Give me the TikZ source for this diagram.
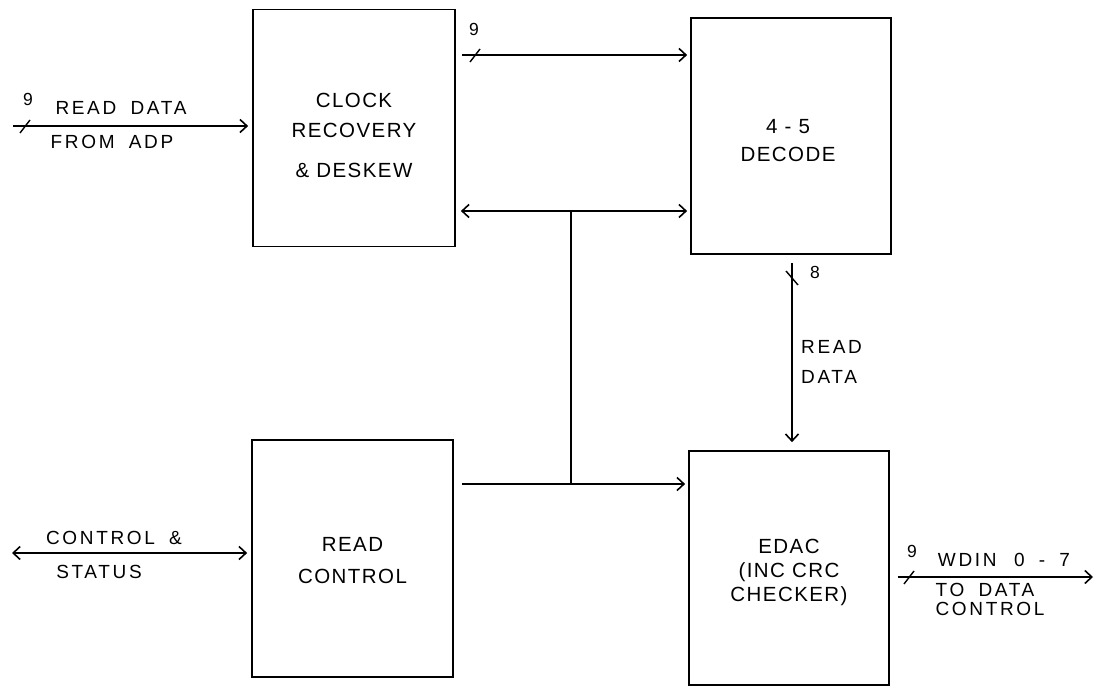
\documentclass[tikz,border=0pt]{standalone}
\usepackage{fontspec}
\setmainfont{Liberation Sans}[LetterSpace=7]
\newfontfamily\lblfont{Liberation Sans}[LetterSpace=14,WordSpace=1.8]
\usetikzlibrary{arrows.meta}
\begin{document}
\begin{tikzpicture}[x=1pt,y=-1pt,
  blk/.style={draw,line width=1.7pt,inner sep=0pt},
  btxt/.style={inner sep=0pt,align=center,font=\fontsize{20.5}{30}\selectfont},
  wire/.style={line width=1.6pt},
  arr/.style={wire,-{Straight Barb[length=7pt,width=13pt,line width=1.6pt]}},
  arrtwo/.style={wire,{Straight Barb[length=7pt,width=13pt,line width=1.6pt]}-{Straight Barb[length=7pt,width=13pt,line width=1.6pt]}},
  tickmark/.style={line width=1.4pt},
  lbl/.style={inner sep=0pt,font=\lblfont\fontsize{19}{22}\selectfont},
  num/.style={inner sep=0pt,font=\fontsize{17.5}{20}\selectfont}]
\useasboundingbox (0,0) rectangle (1095,687);
\fill[white] (0,0) rectangle (1095,687);

% blocks
\node[blk,minimum width=202pt,minimum height=237pt] (clk) at (354,128) {};
\node[blk,minimum width=200pt,minimum height=236pt] (dec) at (791,136) {};
\node[blk,minimum width=201pt,minimum height=237pt] (rc) at (352.5,558.5) {};
\node[blk,minimum width=200pt,minimum height=234pt] (edac) at (789,568) {};

% block texts
\node[btxt] (clkt) at (354,135) {CLOCK\\RECOVERY\\[10pt]\& DESKEW};
\node[btxt,font=\fontsize{20.5}{28}\selectfont] (dect) at (788,141) {4 - 5\\DECODE};
\node[btxt,font=\fontsize{20.5}{32}\selectfont] (rct) at (352.5,561) {READ\\CONTROL};
\node[btxt,font=\fontsize{20.5}{24}\selectfont] (edact) at (789,572) {EDAC\\(INC CRC\\CHECKER)};

% helper coordinates
\coordinate (in1) at (13,126);
\coordinate (top) at (462,55);
\coordinate (busT) at (571,211);
\coordinate (busB) at (571,484);
\coordinate (rdx) at (792,0);
\coordinate (cs) at (12,553);
\coordinate (wd) at (1093,577);

% READ DATA FROM ADP
\draw[arr,shorten >=4pt] (in1) -- (in1 -| clk.west);
\draw[tickmark] ([shift={(7,7)}]in1) -- ++(10,-13);
\node[num] (n9a) at (28,99) {9};
\node[lbl] (rdl1) at (121,108) {READ DATA};
\node[lbl] (rdl2) at (112,142) {FROM ADP};

% top bus clock -> decode
\draw[arr,shorten >=3pt] (top) -- (top -| dec.west);
\draw[tickmark] ([shift={(8,7)}]top) -- ++(10,-13);
\node[num] (n9b) at (474,29) {9};

% bidirectional bus and vertical line
\draw[arrtwo,shorten <=5pt,shorten >=3pt] (clk.east |- busT) -- (dec.west |- busT);
\draw[wire] (busT) -- (busB);
\draw[arr,shorten <=8pt,shorten >=3pt] (rc.east |- busB) -- (edac.west |- busB);

% READ DATA vertical
\draw[arr,shorten <=8pt,shorten >=8pt] (dec.south -| rdx) -- (edac.north -| rdx);
\draw[tickmark] (786,271) -- (798,285);
\node[num] (n8) at (815,272) {8};
\node[lbl,anchor=west] (rdv1) at (801,347) {READ};
\node[lbl,anchor=west] (rdv2) at (801,377) {DATA};

% CONTROL & STATUS
\draw[arrtwo,shorten >=4pt] (cs) -- (cs -| rc.west);
\node[lbl] (csl1) at (114,538) {CONTROL \&};
\node[lbl] (csl2) at (99,572) {STATUS};

% WDIN 0-7 TO DATA CONTROL
\draw[arr,shorten <=8pt] (edac.east |- wd) -- (wd);
\draw[tickmark] (904,584) -- (914,571);
\node[num] (n9c) at (912,551) {9};
\node[lbl] (wl1) at (1004,560) {WDIN\, 0 - 7};
\node[lbl] (wl2) at (985,590) {TO DATA};
\node[lbl] (wl3) at (990,609) {CONTROL};
\end{tikzpicture}
\end{document}
